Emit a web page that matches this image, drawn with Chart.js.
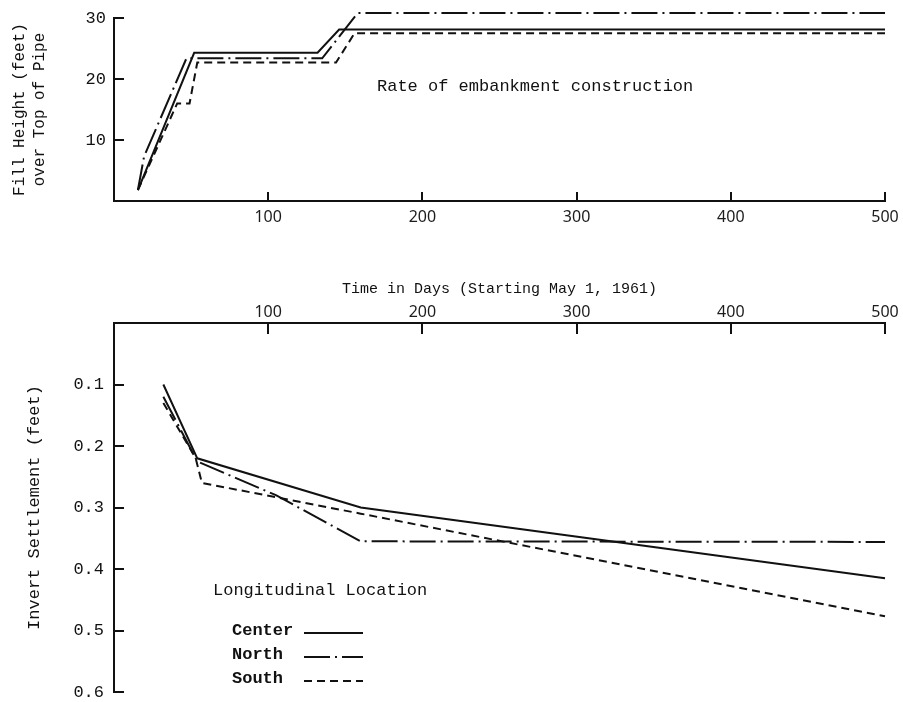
<!DOCTYPE html>
<html>
<head>
<meta charset="utf-8">
<script src="https://cdn.jsdelivr.net/npm/chart.js@4.4.1/dist/chart.umd.min.js"></script>
<style>
  html, body { margin: 0; padding: 0; background: #fff; }
  #wrap { position: relative; width: 903px; height: 702px; background: #fff; }
  #fill { position: absolute; left: 0; top: 0; }
  #settle { position: absolute; left: 0; top: 270px; }
</style>
</head>
<body>
<div id="wrap">
  <canvas id="fill" width="903" height="232"></canvas>
  <canvas id="settle" width="903" height="432"></canvas>
</div>
<script>
// Fill height over top of pipe (feet) by day
const fillDaysCenter = [15.5, 52, 132, 146, 500];
const fillCenter     = [1.8, 24.3, 24.3, 28.1, 28.1];
const fillDaysNorth  = [15.5, 19.5, 47, 135, 158, 500];
const fillNorth      = [1.8, 7.3, 23.4, 23.4, 30.8, 30.8];
const fillDaysSouth  = [15.5, 41, 49, 54, 144, 156, 500];
const fillSouth      = [1.8, 16.0, 16.0, 22.7, 22.7, 27.5, 27.5];

// Invert settlement (feet) by day
const settleDaysCenter = [32, 54, 160, 500];
const settleCenter     = [0.10, 0.22, 0.30, 0.415];
const settleDaysNorth  = [32, 54, 105, 160, 500];
const settleNorth      = [0.12, 0.225, 0.28, 0.355, 0.356];
const settleDaysSouth  = [32, 53, 57, 160, 500];
const settleSouth      = [0.13, 0.22, 0.26, 0.31, 0.477];

const dayTicks    = [100, 200, 300, 400, 500];
const fillTicks   = [10, 20, 30];
const settleTicks = [0.1, 0.2, 0.3, 0.4, 0.5, 0.6];

const locations = ['Center', 'North', 'South'];
const dashes = { Center: [], North: [26, 5, 2, 5], South: [8, 5] };

const INK = '#111';
const MONO = '"Liberation Mono", "DejaVu Sans Mono", monospace';
Chart.defaults.font.family = MONO;
Chart.defaults.color = INK;

function series(days, vals) {
  return days.map((d, i) => ({ x: d, y: vals[i] }));
}

function makeSets(sets) {
  return locations.map((name, i) => ({
    label: name,
    data: series(sets[i][0], sets[i][1]),
    borderColor: INK,
    borderWidth: 2,
    borderDash: dashes[name],
    pointRadius: 0,
    tension: 0,
    fill: false,
    clip: false
  }));
}

// text notes and an in-plot key
const notes = {
  id: 'notes',
  afterDraw(chart, args, opts) {
    const ctx = chart.ctx;
    ctx.save();
    ctx.fillStyle = INK;
    ctx.strokeStyle = INK;
    ctx.textBaseline = 'middle';
    ctx.textAlign = 'left';
    ctx.font = '17px ' + MONO;
    (opts.texts || []).forEach(t => ctx.fillText(t.text, t.x, t.y));
    const key = opts.key;
    if (key) {
      ctx.font = 'bold 17px ' + MONO;
      chart.data.datasets.forEach((ds, i) => {
        const y = key.y + i * key.step;
        ctx.fillText(ds.label, key.x, y);
        ctx.beginPath();
        ctx.lineWidth = ds.borderWidth;
        ctx.setLineDash(ds.borderDash);
        ctx.moveTo(key.lineX1, y + 2);
        ctx.lineTo(key.lineX2, y + 2);
        ctx.stroke();
      });
    }
    ctx.restore();
  }
};

const axisBorder = { display: true, color: INK, width: 2 };
function inwardGrid(len) {
  return { drawOnChartArea: false, drawTicks: true, tickLength: -len, color: INK, lineWidth: 2 };
}
function onlyTicks(list) {
  return scale => { scale.ticks = list.map(v => ({ value: v })); };
}
// fixed axis box size, no extra room reserved for overhanging labels
function fixedBox(size) {
  return s => {
    if (s.isHorizontal()) s.height = size; else s.width = size;
    s.paddingTop = 0; s.paddingBottom = 0; s.paddingLeft = 0; s.paddingRight = 0;
  };
}

new Chart(document.getElementById('fill'), {
  type: 'line',
  data: {
    datasets: makeSets([
      [fillDaysCenter, fillCenter],
      [fillDaysNorth, fillNorth],
      [fillDaysSouth, fillSouth]
    ])
  },
  plugins: [notes],
  options: {
    responsive: false,
    animation: false,
    layout: { padding: { top: 18, right: 18, bottom: 0, left: 0 } },
    plugins: {
      legend: { display: false },
      tooltip: { enabled: false },
      notes: { texts: [{ text: 'Rate of embankment construction', x: 377, y: 86 }] }
    },
    scales: {
      x: {
        type: 'linear', position: 'bottom', min: 0, max: 500,
        afterBuildTicks: onlyTicks(dayTicks),
        ticks: { padding: 16, font: { family: '"Noto Sans", sans-serif', size: 16 }, color: '#1c1c1c' },
        grid: inwardGrid(9),
        border: axisBorder,
        afterFit: fixedBox(31)
      },
      y: {
        type: 'linear', min: 0, max: 30,
        afterBuildTicks: onlyTicks(fillTicks),
        ticks: { padding: 18, font: { size: 17 } },
        grid: inwardGrid(10),
        border: axisBorder,
        title: {
          display: true,
          text: ['Fill Height (feet)', 'over Top of Pipe'],
          font: { size: 16, lineHeight: 1.25 },
          padding: { top: 10, bottom: 0 }
        },
        afterFit: fixedBox(114)
      }
    }
  }
});

new Chart(document.getElementById('settle'), {
  type: 'line',
  data: {
    datasets: makeSets([
      [settleDaysCenter, settleCenter],
      [settleDaysNorth, settleNorth],
      [settleDaysSouth, settleSouth]
    ])
  },
  plugins: [notes],
  options: {
    responsive: false,
    animation: false,
    layout: { padding: { top: 0, right: 18, bottom: 10, left: 0 } },
    plugins: {
      legend: { display: false },
      tooltip: { enabled: false },
      notes: {
        texts: [{ text: 'Longitudinal Location', x: 213, y: 320 }],
        key: { x: 232, y: 361, step: 24, lineX1: 304, lineX2: 363 }
      }
    },
    scales: {
      x: {
        type: 'linear', position: 'top', min: 0, max: 500,
        afterBuildTicks: onlyTicks(dayTicks),
        ticks: { padding: 12, font: { family: '"Noto Sans", sans-serif', size: 16 }, color: '#1c1c1c' },
        grid: inwardGrid(11),
        border: axisBorder,
        title: {
          display: true,
          text: 'Time in Days (Starting May 1, 1961)',
          font: { size: 15, lineHeight: 1.2 },
          padding: { top: 10, bottom: 0 }
        },
        afterFit: fixedBox(53)
      },
      y: {
        type: 'linear', reverse: true, min: 0, max: 0.6,
        afterBuildTicks: onlyTicks(settleTicks),
        ticks: { padding: 20, font: { size: 17 }, callback: v => v.toFixed(1) },
        grid: inwardGrid(10),
        border: axisBorder,
        title: {
          display: true,
          text: 'Invert Settlement (feet)',
          font: { size: 17, lineHeight: 1.2 },
          padding: { top: 24, bottom: 0 }
        },
        afterFit: fixedBox(114)
      }
    }
  }
});
</script>
</body>
</html>
